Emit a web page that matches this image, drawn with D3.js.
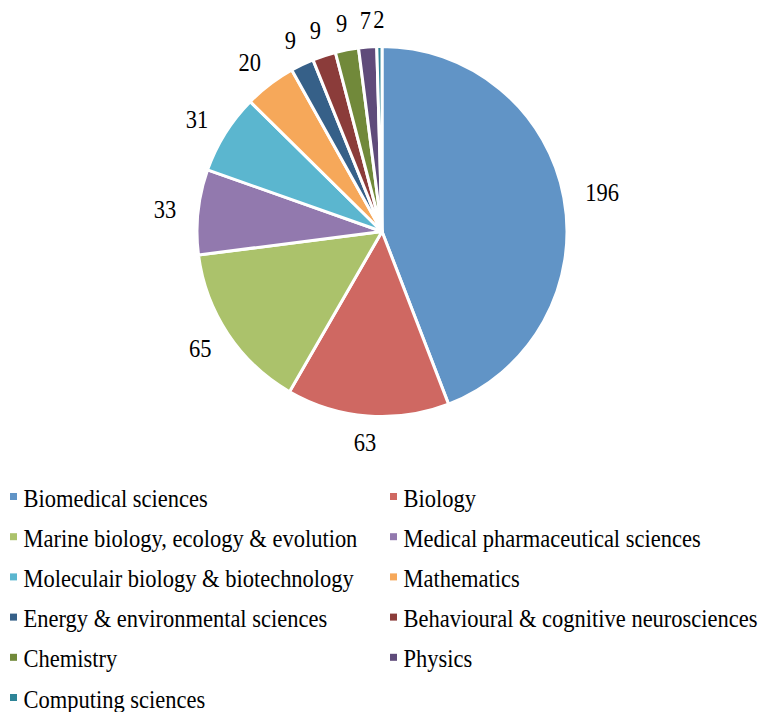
<!DOCTYPE html>
<html><head><meta charset="utf-8"><script src="https://cdn.jsdelivr.net/npm/d3@7"></script></head>
<body style="margin:0">
<script>
const categories = [
  'Biomedical sciences', 'Biology', 'Marine biology, ecology & evolution',
  'Medical pharmaceutical sciences', 'Moleculair biology & biotechnology',
  'Mathematics', 'Energy & environmental sciences',
  'Behavioural & cognitive neurosciences', 'Chemistry', 'Physics', 'Computing sciences'
]
const values = [196, 63, 65, 33, 31, 20, 9, 9, 9, 7, 2]
const colors = [
  '#6194c6', '#cf6862', '#abc26b', '#9279ae', '#5bb6cf', '#f6a85a',
  '#366088', '#8b3c3a', '#71893a', '#5f4b7a', '#2e8497'
]

const width = 765, height = 712
const cx = 382, cy = 231.5, r = 185
const fontSize = 25, squeeze = 0.9

const svg = d3.select('body').append('svg')
    .attr('width', width)
    .attr('height', height)
    .attr('font-family', 'Times New Roman')
    .attr('font-size', fontSize)

const data = categories.map((c, i) => ({ name: c, value: values[i], color: colors[i] }))

const pie = d3.pie().sort(null).value(d => d.value)
const arcs = pie(data)
const arc = d3.arc().innerRadius(0).outerRadius(r)

svg.append('g').attr('transform', `translate(${cx},${cy})`)
  .selectAll('path')
    .data(arcs).enter()
    .append('path')
    .attr('d', arc)
    .attr('fill', d => d.data.color)
    .attr('stroke', '#fff')
    .attr('stroke-width', 3)
    .attr('stroke-linejoin', 'round')

// labels outside end
const gap = 15, padW = 14, boxH = 24
arcs.forEach(d => {
    const t = svg.append('text')
        .attr('text-anchor', 'middle')
        .text(d.data.value)
    const a = (d.startAngle + d.endAngle) / 2
    const w = t.node().getComputedTextLength() * squeeze + padW
    const s = Math.sin(a), c = Math.cos(a)
    const x = cx + s * (r + gap) + s * w / 2
    const y = cy - c * (r + gap) - c * boxH / 2 + 8.5
    t.attr('transform', `translate(${x},${y}) scale(${squeeze},1)`)
})

// legend
const colX = [10, 390]
const rowTop = d3.range(6).map(i => 493 + i * 40.2)
data.forEach((d, i) => {
    const x = colX[i % 2], y = rowTop[Math.floor(i / 2)]
    svg.append('rect')
        .attr('x', x).attr('y', y)
        .attr('width', 7).attr('height', 7)
        .attr('fill', d.color)
    svg.append('text')
        .attr('transform', `translate(${x + 13.5},${y + 13.5}) scale(${squeeze},1)`)
        .text(d.name)
})
</script></body></html>
